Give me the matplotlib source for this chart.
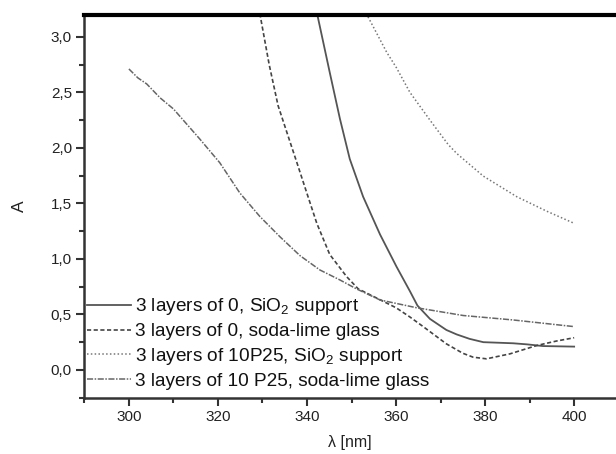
import matplotlib
matplotlib.use("Agg")
import matplotlib.pyplot as plt
from matplotlib.ticker import MultipleLocator, FuncFormatter

# solid: 3 layers of 0, SiO2 support
wl_sio2_0 = [342.2, 345.1, 347.4, 349.6, 352.6, 356.4, 360.1, 363.1, 364.8, 367.6, 371.3,
             373.6, 376.5, 379.6, 383.0, 386.3, 389.5, 393.0, 400.0]
a_sio2_0 = [3.22, 2.68, 2.26, 1.90, 1.56, 1.22, 0.93, 0.71, 0.58, 0.46, 0.36,
            0.32, 0.28, 0.25, 0.245, 0.24, 0.23, 0.215, 0.21]

# dashed: 3 layers of 0, soda-lime glass
wl_glass_0 = [329.4, 331.5, 333.5, 335.8, 337.7, 339.9, 342.2, 345.1, 348.9, 351.5, 356.0, 360.0,
              363.0, 366.1, 371.3, 375.0, 377.3, 380.3, 385.6, 391.6, 396.0, 400.0]
a_glass_0 = [3.21, 2.75, 2.38, 2.10, 1.87, 1.60, 1.32, 1.04, 0.84, 0.73, 0.64, 0.56,
             0.48, 0.39, 0.235, 0.15, 0.115, 0.10, 0.145, 0.22, 0.26, 0.29]

# dotted: 3 layers of 10P25, SiO2 support
wl_sio2_p25 = [353.3, 357.9, 360.1, 363.1, 367.6, 371.7, 373.6, 379.6, 387.1, 393.8, 400.0]
a_sio2_p25 = [3.21, 2.86, 2.72, 2.50, 2.25, 2.03, 1.95, 1.745, 1.56, 1.43, 1.32]

# dash-dot: 3 layers of 10 P25, soda-lime glass
wl_glass_p25 = [300.0, 302.0, 304.0, 307.0, 310.0, 315.9, 320.4, 324.9, 329.4, 333.9, 338.4,
                342.9, 347.4, 351.1, 356.4, 364.6, 375.1, 386.3, 400.0]
a_glass_p25 = [2.71, 2.63, 2.575, 2.45, 2.35, 2.08, 1.866, 1.594, 1.382, 1.20, 1.03,
               0.90, 0.81, 0.73, 0.63, 0.56, 0.49, 0.45, 0.39]

labels = [
    "3 layers of 0, SiO$_2$ support",
    "3 layers of 0, soda-lime glass",
    "3 layers of 10P25, SiO$_2$ support",
    "3 layers of 10 P25, soda-lime glass",
]

plt.rcParams['font.family'] = ['Liberation Sans', 'DejaVu Sans']
plt.rcParams['mathtext.fontset'] = 'custom'
plt.rcParams['mathtext.rm'] = 'Liberation Sans'

fig = plt.figure(figsize=(6.16, 4.54), dpi=100)
ax = fig.add_axes([0.137, 0.124, 0.863, 0.844])

ax.plot(wl_sio2_0, a_sio2_0, color='#555555', lw=1.3, ls='-', label=labels[0])
ax.plot(wl_glass_0, a_glass_0, color='#444444', lw=1.2, ls=(0, (2.5, 1.5)), label=labels[1])
ax.plot(wl_sio2_p25, a_sio2_p25, color='#777777', lw=1.1, ls=(0, (1, 1.5)), label=labels[2])
ax.plot(wl_glass_p25, a_glass_p25, color='#666666', lw=1.1, ls=(0, (4, 1, 1, 1)), label=labels[3])

ax.set_xlim(290, 409.4)
ax.set_ylim(-0.25, 3.2)

ax.xaxis.set_major_locator(MultipleLocator(20))
ax.xaxis.set_minor_locator(MultipleLocator(10))
ax.yaxis.set_major_locator(MultipleLocator(0.5))
ax.yaxis.set_minor_locator(MultipleLocator(0.25))
ax.yaxis.set_major_formatter(FuncFormatter(lambda v, p: f"{v:.1f}".replace('.', ',')))

ax.tick_params(which='major', direction='out', length=6, width=1.5, color='#333333',
               labelsize=11, labelcolor='#222222', pad=3)
ax.tick_params(which='minor', direction='out', length=3.5, width=1.5, color='#333333')

ax.spines['right'].set_visible(False)
ax.spines['top'].set_linewidth(3)
ax.spines['top'].set_color('black')
for s in ('left', 'bottom'):
    ax.spines[s].set_linewidth(1.8)
    ax.spines[s].set_color('#333333')

ax.set_xlabel("λ [nm]", fontsize=11.5, color='#222222', labelpad=8)
ax.set_ylabel("A", fontsize=12.5, color='#222222', labelpad=17)

leg = ax.legend(loc='lower left', bbox_to_anchor=(-0.009, 0.0), frameon=False, fontsize=13.7,
                handlelength=2.3, handletextpad=0.2, labelspacing=0.3,
                borderaxespad=0.35, borderpad=0.05)
for t in leg.get_texts():
    t.set_color('#111111')

fig.savefig("out.png", dpi=100)
